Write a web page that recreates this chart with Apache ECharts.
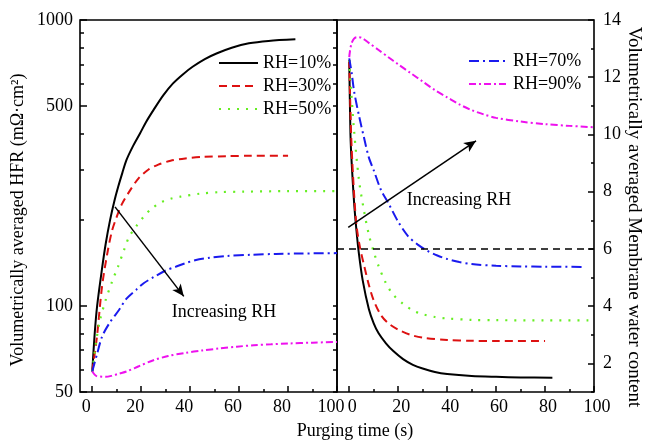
<!DOCTYPE html>
<html>
<head>
<meta charset="utf-8">
<script src="https://cdn.jsdelivr.net/npm/echarts@6/dist/echarts.min.js"></script>
<style>html,body{margin:0;padding:0;background:#fff}#c{width:650px;height:443px}</style>
</head>
<body>
<div id="c"></div>
<script>
// ---- Left panel: volumetrically averaged HFR (mOhm cm2) ----
const hfrT10 = [0,1,2,4,5.5,7.3,9,10.6,12.3,14,16.5,19.5,22,25,29,33,37,41,46,51,57,64,72,83];
const hfr10  = [59,80,100,135,165,200,232,261,292,324,360,401,440,484,545,600,645,686,730,765,800,829,845,856];
const hfrT30 = [0,1,2,4,6,8,10,12,15,19,23,27,32,38,45,55,65,80];
const hfr30  = [59,68,79,117,150,182,205,226,250,280,300,312,322,328,332,334,335,335];
const hfrT50 = [0,1.5,3,5.5,8,10.5,13,15,18,21,24,28,32,36,44,52,62,80,100];
const hfr50  = [59,74,88,105,121,137,157,174,190,205,218,230,237,241,247,250,251,252,252];
const hfrT70 = [0,2,4,7,11,14,18,21,25,30,34,38,42,48,55,65,75,85,100];
const hfr70  = [59,68,78,87,97,106,114,120,126,133,137,141,144.5,147.5,149.5,151,152,152.5,153];
const hfrT90 = [0,1.5,3,5.5,8,11,14,19,25,31,38,45,52,59,66,73,80,90,100];
const hfr90  = [59,57,56.7,56.5,57,58,59,61.5,64.6,66.8,68.5,69.9,71,72,72.9,73.4,73.9,74.4,74.8];

// ---- Right panel: membrane water content ----
const wT10 = [0,0.5,1,2,3,4,5.5,8,10,12,15,18,22,26,30,35,40,50,60,70,83];
const w10  = [12.6,10.0,9.0,7.6,6.6,5.8,4.9,3.9,3.4,3.05,2.7,2.43,2.15,1.95,1.82,1.7,1.63,1.56,1.53,1.51,1.5];
const wT30 = [0,0.5,1,2,3,4.5,6,8,10,13,16,20,25,30,40,50,60,80];
const w30  = [12.6,10.8,9.5,7.9,6.8,6.0,5.45,4.75,4.2,3.68,3.4,3.18,3.0,2.9,2.82,2.79,2.78,2.78];
const wT50 = [0,0.5,2,4,6,8,10,12,15,18,22,26,30,35,40,50,60,80,100];
const w50  = [12.6,11.9,10.1,8.4,7.35,6.5,5.9,5.4,4.8,4.4,4.08,3.85,3.72,3.62,3.57,3.52,3.51,3.5,3.5];
const wT70 = [0,1,2,4,6,8,10,13,16,20,24,28,32,36,40,45,50,60,70,80,96];
const w70  = [12.66,12.15,11.5,10.65,9.9,9.2,8.75,8.05,7.6,6.95,6.45,6.15,5.93,5.77,5.65,5.54,5.47,5.41,5.39,5.38,5.37];
const wT90 = [0,1,3,5,8,12,16,20,25,30,35,40,45,50,55,60,70,80,90,100];
const w90  = [12.7,13.2,13.4,13.38,13.2,12.95,12.7,12.45,12.15,11.85,11.55,11.3,11.05,10.85,10.7,10.58,10.45,10.36,10.3,10.25];

const seriesNames = ['RH=10%','RH=30%','RH=50%','RH=70%','RH=90%'];
const xTicks = [0,20,40,60,80,100];
const xMinor = [10,30,50,70,90];
const hfrLabels = [50,100,500,1000];
const hfrMinor = [60,70,80,90,200,300,400,600,700,800,900];
const wLabels = [2,4,6,8,10,12,14];
const wMinor = [1,3,5,7,9,11,13];
const thresholdW = 6;
const arrowLeft = [[9.3,222],[37.4,108]];
const arrowRight = [[-0.4,6.75],[51.8,9.78]];

const FONT = 'Liberation Serif';
const colors = ['#000000','#dd1111','#66ee22','#1a1aee','#ee11ee'];
const dashes = ['solid',[8,5],[2,7],[10,4,2,4],[7,3,2,3]];
const widths = [2,2,2.2,2,2];

const zip = (a,b) => a.map((v,i)=>[v,b[i]]);
const leftData = [zip(hfrT10,hfr10),zip(hfrT30,hfr30),zip(hfrT50,hfr50),zip(hfrT70,hfr70),zip(hfrT90,hfr90)];
const rightData = [zip(wT10,w10),zip(wT30,w30),zip(wT50,w50),zip(wT70,w70),zip(wT90,w90)];

const lab = {fontFamily:FONT,fontSize:18,color:'#000'};
const tickStyle = {color:'#000',width:1.5};
function xAx(grid, main){
  return {type:'value',gridIndex:grid,min:-5,max:100,position:'bottom',
    axisLine:{show:false,onZero:false},splitLine:{show:false},
    axisTick:{show:true,inside:true,length:main?6:3,lineStyle:tickStyle,customValues:main?xTicks:xMinor},
    axisLabel:{show:main,customValues:xTicks,margin:6,padding:grid===0?[0,12,0,0]:[0,0,0,6],...lab}};
}
function yAx(o){
  return Object.assign({axisLine:{show:false,onZero:false},splitLine:{show:false}},o);
}
const grids = [
  {left:80,top:20,width:257,height:372,show:true,borderColor:'#000',borderWidth:1.6,backgroundColor:'transparent'},
  {left:337,top:20,width:257,height:372,show:true,borderColor:'#000',borderWidth:1.6,backgroundColor:'transparent'}
];
const yAxes = [
  yAx({type:'log',logBase:10,gridIndex:0,min:50,max:1000,position:'left',
   axisTick:{inside:true,length:7,lineStyle:tickStyle,customValues:hfrLabels},
   axisLabel:{customValues:hfrLabels,margin:7,formatter:v=>String(v),...lab},
   name:'Volumetrically averaged HFR (mΩ·cm²)',nameLocation:'middle',nameGap:53,
   nameTextStyle:Object.assign({padding:[0,28,0,0]},lab)}),
  yAx({type:'log',logBase:10,gridIndex:0,min:50,max:1000,position:'left',
   axisTick:{inside:true,length:4,lineStyle:tickStyle,customValues:hfrMinor},
   axisLabel:{show:false}}),
  yAx({type:'log',logBase:10,gridIndex:0,min:50,max:1000,position:'right',
   axisTick:{inside:true,length:4,lineStyle:tickStyle,customValues:hfrMinor.concat(hfrLabels)},
   axisLabel:{show:false}}),
  yAx({type:'value',gridIndex:1,min:1,max:14,position:'right',
   axisTick:{inside:true,length:6,lineStyle:tickStyle,customValues:wLabels},
   axisLabel:{customValues:wLabels,margin:9,...lab},
   name:'Volumetrically averaged Membrane water content',nameLocation:'middle',nameGap:29,nameRotate:-90,
   nameTextStyle:Object.assign({},lab,{fontSize:19,padding:[0,0,0,22]})}),
  yAx({type:'value',gridIndex:1,min:1,max:14,position:'right',
   axisTick:{inside:true,length:3,lineStyle:tickStyle,customValues:wMinor},
   axisLabel:{show:false}})
];
const series = [];
seriesNames.forEach((n,i)=>{
  series.push({name:n,type:'line',xAxisIndex:0,yAxisIndex:0,data:leftData[i],symbol:'none',smooth:0.3,
    lineStyle:{color:colors[i],width:widths[i],type:dashes[i]},itemStyle:{color:colors[i]},z:3});
});
seriesNames.forEach((n,i)=>{
  series.push({name:n,type:'line',xAxisIndex:2,yAxisIndex:3,data:rightData[i],symbol:'none',smooth:0.3,
    lineStyle:{color:colors[i],width:widths[i],type:dashes[i]},itemStyle:{color:colors[i]},z:3});
});
// annotations (arrows, threshold line)
series.push({type:'line',xAxisIndex:0,yAxisIndex:0,data:[],silent:true,
  markLine:{silent:true,animation:false,symbol:['none','arrow'],symbolSize:[8,12],label:{show:false},
    lineStyle:{color:'#000',width:1.5,type:'solid'},
    data:[[{coord:arrowLeft[0]},{coord:arrowLeft[1]}]]}});
series.push({type:'line',xAxisIndex:2,yAxisIndex:3,data:[],silent:true,
  markLine:{silent:true,animation:false,label:{show:false},
    data:[
      [{coord:arrowRight[0],symbol:'none'},{coord:arrowRight[1],symbol:'arrow',symbolSize:[8,12]}],
      [{coord:[-5,thresholdW],symbol:'none',lineStyle:{type:[7,5],width:1.5,color:'#000'}},{coord:[100,thresholdW],symbol:'none'}]
    ],
    lineStyle:{color:'#000',width:1.5,type:'solid'}}});

const legendCommon = {orient:'vertical',itemWidth:39,itemHeight:14,itemGap:3,
  itemStyle:{opacity:0},
  textStyle:{fontFamily:FONT,fontSize:18,color:'#000',lineHeight:20},padding:0};
const option = {
  animation:false,
  backgroundColor:'#fff',
  textStyle:{fontFamily:FONT},
  grid:grids,
  xAxis:[xAx(0,true),xAx(0,false),xAx(1,true),xAx(1,false)],
  yAxis:yAxes,
  legend:[
    {...legendCommon,data:seriesNames.slice(0,3),left:218,top:53},
    {...legendCommon,data:seriesNames.slice(3),left:468,top:51}
  ],
  graphic:[
    {type:'text',style:{text:'Increasing RH',font:'18px "Liberation Serif"',fill:'#000',x:224,y:312,align:'center',verticalAlign:'middle'}},
    {type:'text',style:{text:'Increasing RH',font:'18px "Liberation Serif"',fill:'#000',x:459,y:200,align:'center',verticalAlign:'middle'}},
    {type:'text',style:{text:'Purging time (s)',font:'18px "Liberation Serif"',fill:'#000',x:355,y:431,align:'center',verticalAlign:'middle'}}
  ],
  series:series
};
const chart = echarts.init(document.getElementById('c'),null,{renderer:'canvas'});
chart.setOption(option);
</script>
</body>
</html>
